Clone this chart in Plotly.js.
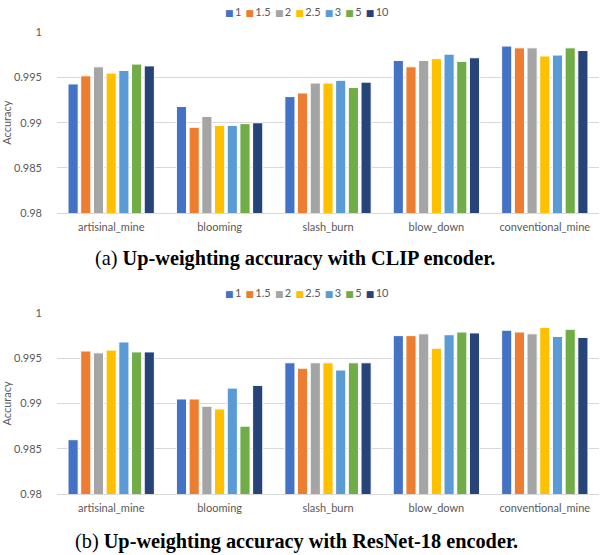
<!DOCTYPE html>
<html>
<head>
<meta charset="utf-8">
<script src="https://cdn.plot.ly/plotly-3.0.1.min.js"></script>
<style>html,body{margin:0;padding:0;background:#fff;}#chart{width:605px;height:555px;}</style>
</head>
<body>
<div id="chart"></div>
<script>
const categories = ["artisinal_mine", "blooming", "slash_burn", "blow_down", "conventional_mine"];
const seriesNames = ["1", "1.5", "2", "2.5", "3", "5", "10"];
const seriesColors = ["#4472C4", "#ED7D31", "#A5A5A5", "#FFC000", "#5B9BD5", "#70AD47", "#264478"];

// (a) CLIP encoder: one array per weight, values per category
const clip_1   = [0.9943, 0.9918, 0.9929, 0.9969, 0.9985];
const clip_1_5 = [0.9952, 0.9895, 0.9933, 0.9962, 0.9983];
const clip_2   = [0.9962, 0.9907, 0.9944, 0.9969, 0.9983];
const clip_2_5 = [0.9955, 0.9897, 0.9944, 0.9971, 0.9974];
const clip_3   = [0.9958, 0.9897, 0.9947, 0.9976, 0.9975];
const clip_5   = [0.9965, 0.9899, 0.9939, 0.9968, 0.9983];
const clip_10  = [0.9963, 0.9900, 0.9945, 0.9972, 0.9980];

// (b) ResNet-18 encoder
const res_1   = [0.9860, 0.9905, 0.9945, 0.9975, 0.9981];
const res_1_5 = [0.9958, 0.9905, 0.9939, 0.9975, 0.9979];
const res_2   = [0.9956, 0.9897, 0.9945, 0.9977, 0.9977];
const res_2_5 = [0.9959, 0.9894, 0.9945, 0.9961, 0.9984];
const res_3   = [0.9968, 0.9917, 0.9937, 0.9976, 0.9974];
const res_5   = [0.9957, 0.9875, 0.9945, 0.9979, 0.9982];
const res_10  = [0.9957, 0.9920, 0.9945, 0.9978, 0.9973];

const clipSeries = [clip_1, clip_1_5, clip_2, clip_2_5, clip_3, clip_5, clip_10];
const resSeries  = [res_1, res_1_5, res_2, res_2_5, res_3, res_5, res_10];

const yTicks = [0.98, 0.985, 0.99, 0.995, 1];
const yTickText = ["0.98", "0.985", "0.99", "0.995", "1"];

const traces = [];
seriesNames.forEach((name, i) => {
  traces.push({
    type: "bar", name: name, x: categories, y: clipSeries[i],
    xaxis: "x", yaxis: "y", showlegend: false,
    marker: {color: seriesColors[i], line: {color: "#ffffff", width: 1}},
    hoverinfo: "skip"
  });
});
seriesNames.forEach((name, i) => {
  traces.push({
    type: "bar", name: name, x: categories, y: resSeries[i],
    xaxis: "x2", yaxis: "y2", showlegend: false,
    marker: {color: seriesColors[i], line: {color: "#ffffff", width: 1}},
    hoverinfo: "skip"
  });
});

const baseFont = "Lato, Open Sans, sans-serif";
const tickFont = {family: baseFont, size: 11, color: "#595959"};
const xDomain = [57/605, 599/605];

function yAxis(domain, anchor) {
  return {
    domain: domain, anchor: anchor, range: [0.98, 1],
    tickvals: yTicks, ticktext: yTickText, tickfont: tickFont,
    showgrid: true, gridcolor: "#D9D9D9", gridwidth: 1,
    zeroline: false, showline: false, ticks: "", ticklabelstandoff: 14,
    title: {text: "Accuracy", font: {family: baseFont, size: 11, color: "#595959"}, standoff: 2}
  };
}
function xAxis(anchor) {
  return {
    domain: xDomain, anchor: anchor, tickfont: tickFont,
    showline: true, linecolor: "#D9D9D9", linewidth: 1, ticks: "", ticklabelstandoff: 4
  };
}

// compact Excel-style legend built from the series names and colours
const legendText = seriesNames.map((n, i) =>
  '<span style="color:' + seriesColors[i] + ';font-family:DejaVu Sans;font-size:9px">\u25A0</span>\u2009' + n
).join('\u00A0\u2009');

function legendAnno(y) {
  return {text: legendText, xref: "paper", yref: "paper", x: 307/605, y: y,
    xanchor: "center", yanchor: "middle", showarrow: false,
    font: {family: baseFont, size: 11, color: "#595959"}};
}

const layout = {
  width: 605, height: 555,
  margin: {l: 0, r: 0, t: 0, b: 0},
  paper_bgcolor: "#ffffff", plot_bgcolor: "#ffffff",
  barmode: "group", bargap: 0.18, bargroupgap: 0.2,
  showlegend: false,
  xaxis: xAxis("y"),
  yaxis: yAxis([1 - 213/555, 1 - 32.5/555], "x"),
  xaxis2: xAxis("y2"),
  yaxis2: yAxis([1 - 494/555, 1 - 313/555], "x2"),
  annotations: [
    legendAnno(1 - 11/555),
    legendAnno(1 - 292/555),
    {text: "(a) <b>Up-weighting accuracy with CLIP encoder.</b>", xref: "paper", yref: "paper",
     x: 0.487, y: 1 - 258/555, xanchor: "center", yanchor: "middle", showarrow: false,
     font: {family: "Liberation Serif, Times New Roman, serif", size: 20.3, color: "#000"}},
    {text: "(b) <b>Up-weighting accuracy with ResNet-18 encoder.</b>", xref: "paper", yref: "paper",
     x: 0.49, y: 1 - 541/555, xanchor: "center", yanchor: "middle", showarrow: false,
     font: {family: "Liberation Serif, Times New Roman, serif", size: 20.3, color: "#000"}}
  ]
};

Plotly.newPlot("chart", traces, layout, {displayModeBar: false, staticPlot: true});
</script>
</body>
</html>
